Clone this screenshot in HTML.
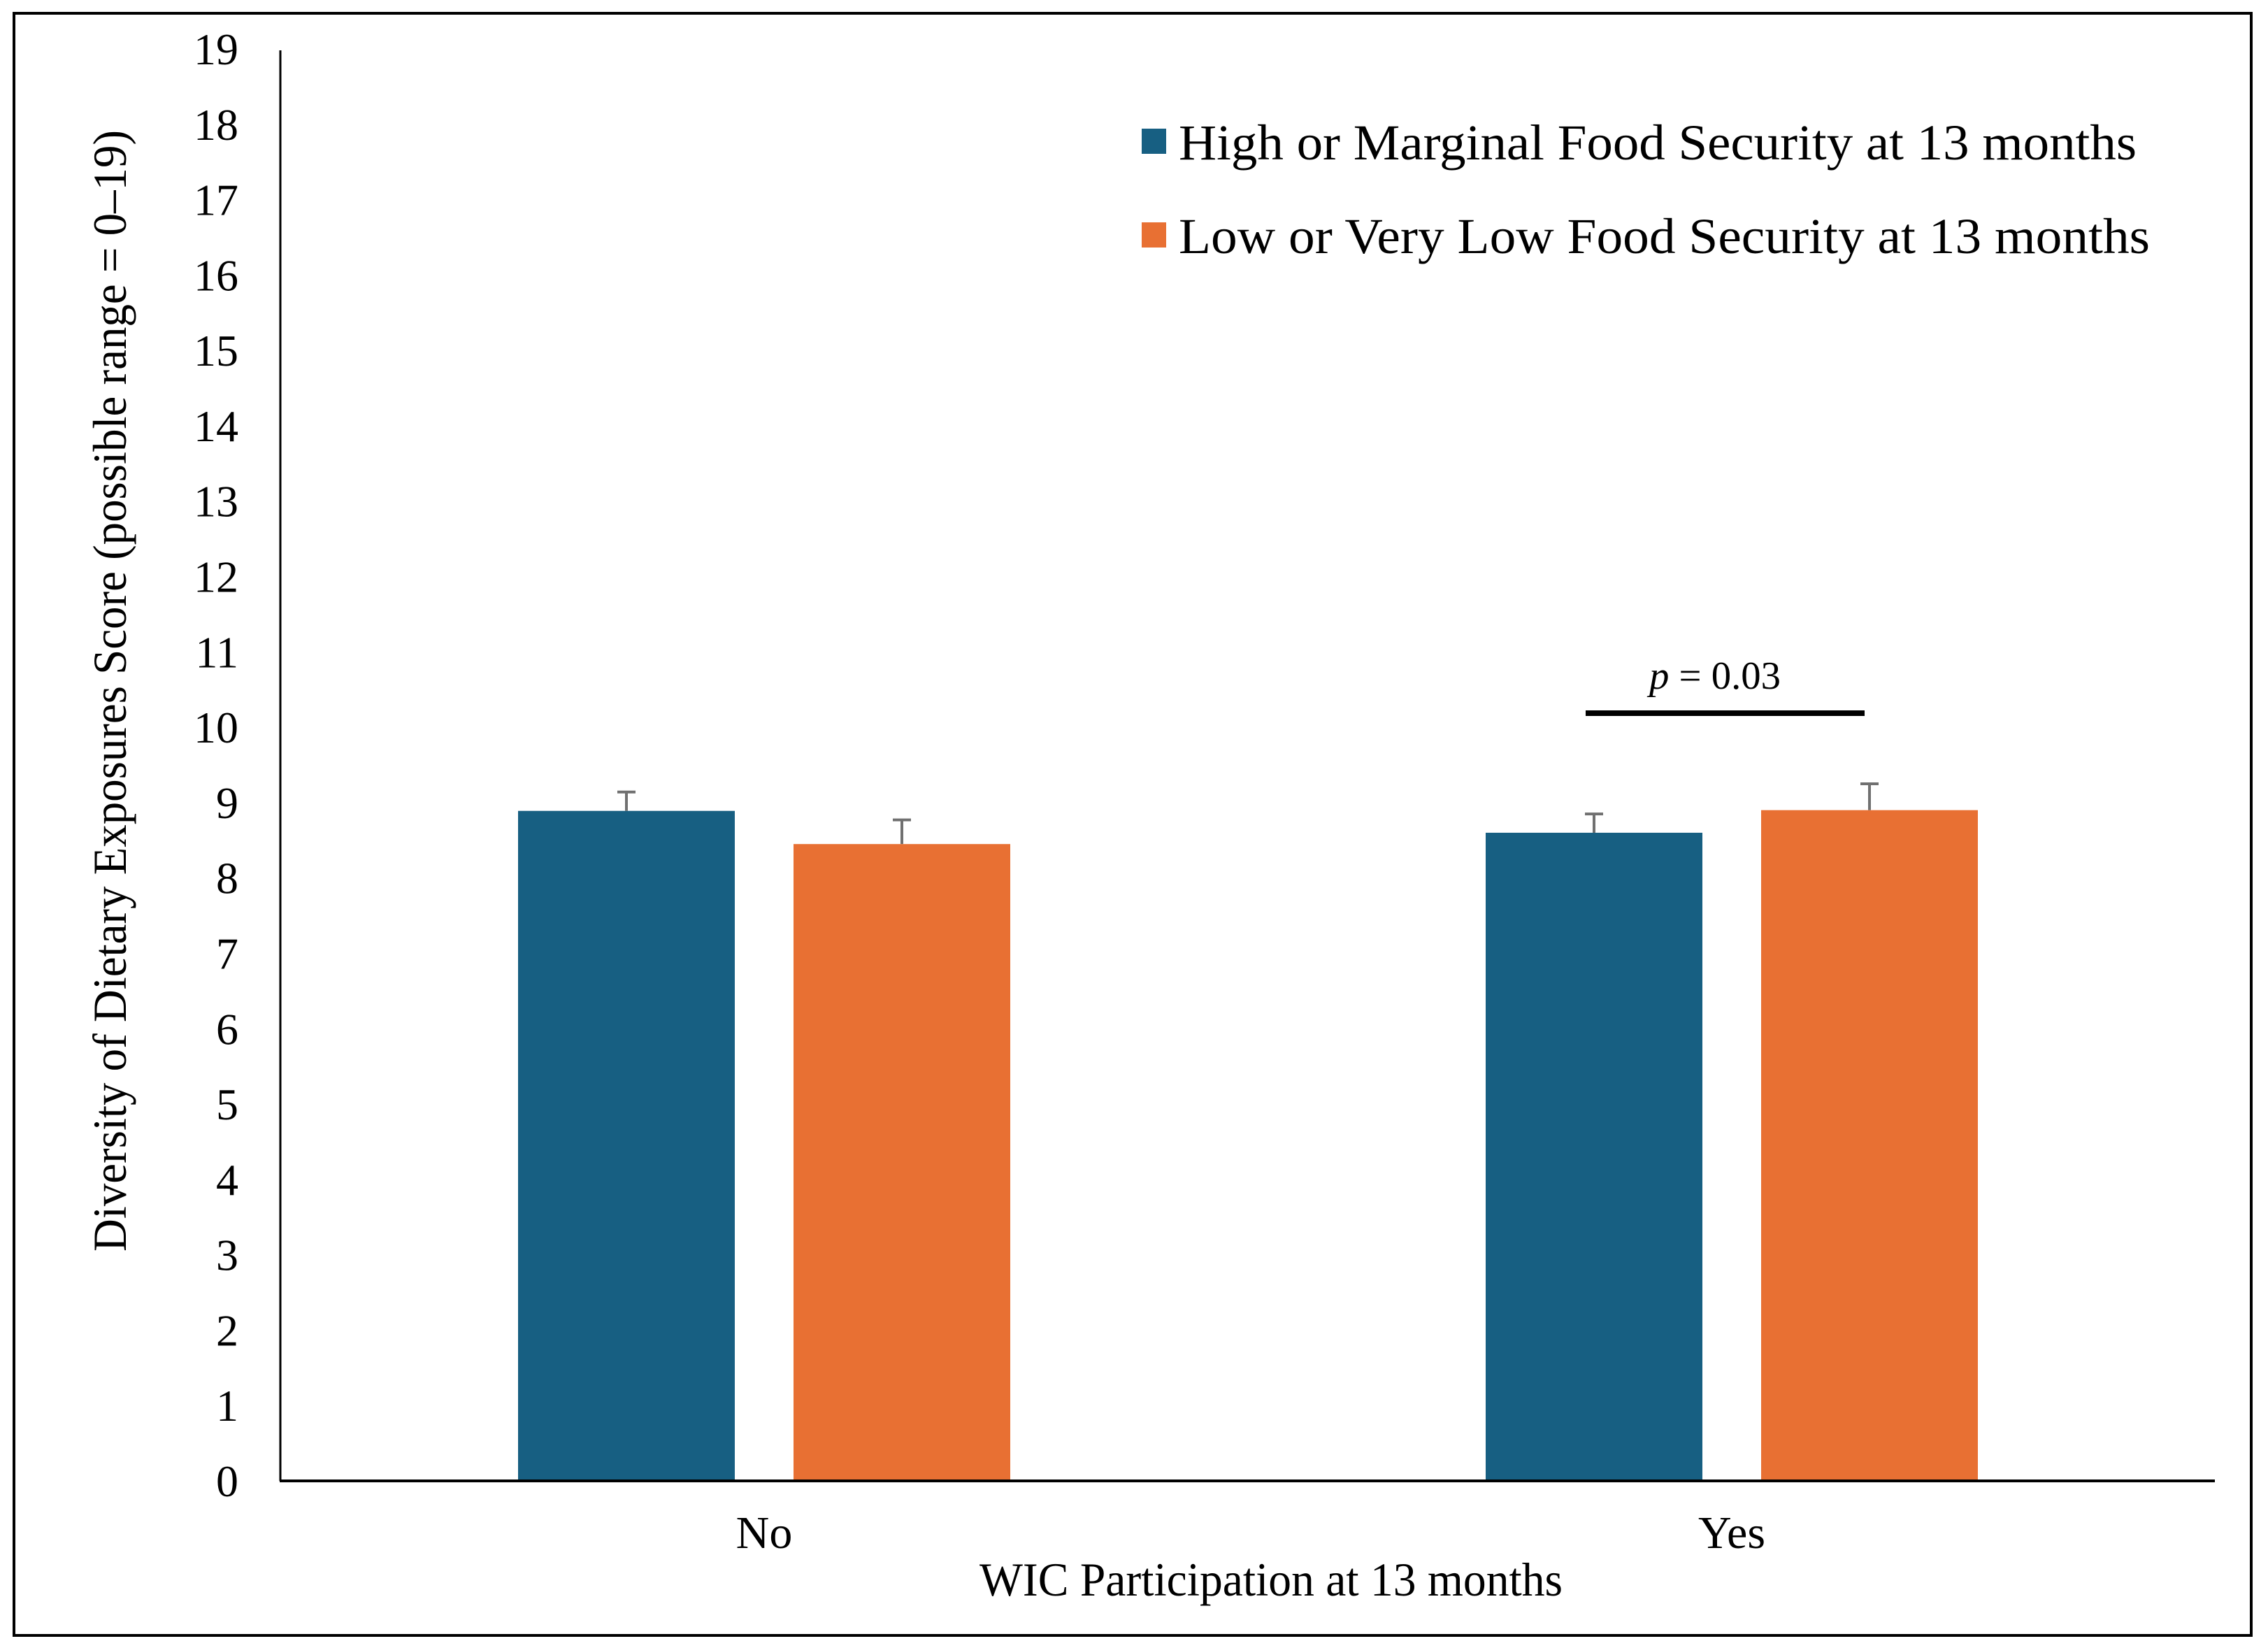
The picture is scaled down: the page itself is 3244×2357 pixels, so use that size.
<!DOCTYPE html>
<html><head><meta charset="utf-8"><style>html,body{margin:0;padding:0;background:#fff}svg{display:block}text{font-family:"Liberation Serif",serif;fill:#000}</style></head>
<body>
<svg id="chart" width="3244" height="2357" viewBox="0 0 3244 2357" xmlns="http://www.w3.org/2000/svg">
<rect x="20" y="19" width="3200" height="2320" fill="none" stroke="#000" stroke-width="4"/>
<g id="yticks"></g>
<g id="bars"></g>
<line x1="401" y1="72" x2="401" y2="2118" stroke="#000" stroke-width="3"/>
<line x1="400" y1="2118" x2="3168" y2="2118" stroke="#000" stroke-width="4"/>
<text transform="translate(180,988) rotate(-90)" text-anchor="middle" font-size="68" textLength="1604" lengthAdjust="spacingAndGlyphs">Diversity of Dietary Exposures Score (possible range = 0–19)</text>
<text x="1818" y="2282" text-anchor="middle" font-size="68" textLength="834" lengthAdjust="spacingAndGlyphs">WIC Participation at 13 months</text>
<g>
<rect x="1633" y="184" width="35" height="36" fill="#175f82"/>
<text x="1686" y="228" font-size="72" textLength="1370" lengthAdjust="spacingAndGlyphs">High or Marginal Food Security at 13 months</text>
<rect x="1633" y="318" width="35" height="36" fill="#e87033"/>
<text x="1686" y="362" font-size="72" textLength="1389" lengthAdjust="spacingAndGlyphs">Low or Very Low Food Security at 13 months</text>
</g>
<line x1="2268" y1="1020" x2="2667" y2="1020" stroke="#000" stroke-width="8"/>
<text x="2359" y="985" font-size="56" textLength="188" lengthAdjust="spacingAndGlyphs"><tspan font-style="italic">p</tspan> = 0.03</text>
</svg>
<script>
const categories = ["No", "Yes"];
const highValues = [8.89, 8.6];
const lowValues = [8.45, 8.9];
const highErr = [0.25, 0.25];
const lowErr = [0.32, 0.35];
const yTicks = [0,1,2,3,4,5,6,7,8,9,10,11,12,13,14,15,16,17,18,19];

const NS = "http://www.w3.org/2000/svg";
const y0 = 2118, yTop = 70, yMax = 19;
function yScale(v){ return y0 - (y0 - yTop) * v / yMax; }
const groupCenters = [1093, 2477];
function xCenter(i){ return groupCenters[i]; }
const barW = 310, offset = 197;

const tg = document.getElementById('yticks');
yTicks.forEach(t => {
  const tx = document.createElementNS(NS, 'text');
  
  
  tx.setAttribute('x', 341);
  tx.setAttribute('y', yScale(t) + 22);
  tx.setAttribute('text-anchor', 'end');
  tx.setAttribute('font-size', '64');
  tx.textContent = t;
  tg.appendChild(tx);
});

const bg = document.getElementById('bars');
function drawBar(i, v, e, dx, color, name){
  const cx = xCenter(i) + dx;
  const r = document.createElementNS(NS, 'rect');
  
  
  r.setAttribute('x', cx - barW/2);
  r.setAttribute('y', yScale(v));
  r.setAttribute('width', barW);
  r.setAttribute('height', y0 - yScale(v));
  r.setAttribute('fill', color);
  bg.appendChild(r);
  const l = document.createElementNS(NS, 'path');
  
  
  l.setAttribute('d', `M${cx},${yScale(v)}V${yScale(v+e)}M${cx-13},${yScale(v+e)}H${cx+13}`);
  l.setAttribute('stroke', '#707070');
  l.setAttribute('stroke-width', '4');
  l.setAttribute('fill', 'none');
  bg.appendChild(l);
}
categories.forEach((c, i) => {
  drawBar(i, highValues[i], highErr[i], -offset, '#175f82', 'bar-high-' + c.toLowerCase());
  drawBar(i, lowValues[i], lowErr[i], offset, '#e87033', 'bar-low-' + c.toLowerCase());
  const tx = document.createElementNS(NS, 'text');
  
  
  tx.setAttribute('x', xCenter(i));
  tx.setAttribute('y', 2214);
  tx.setAttribute('text-anchor', 'middle');
  tx.setAttribute('font-size', '66');
  tx.textContent = c;
  bg.appendChild(tx);
});
</script>
</body></html>
